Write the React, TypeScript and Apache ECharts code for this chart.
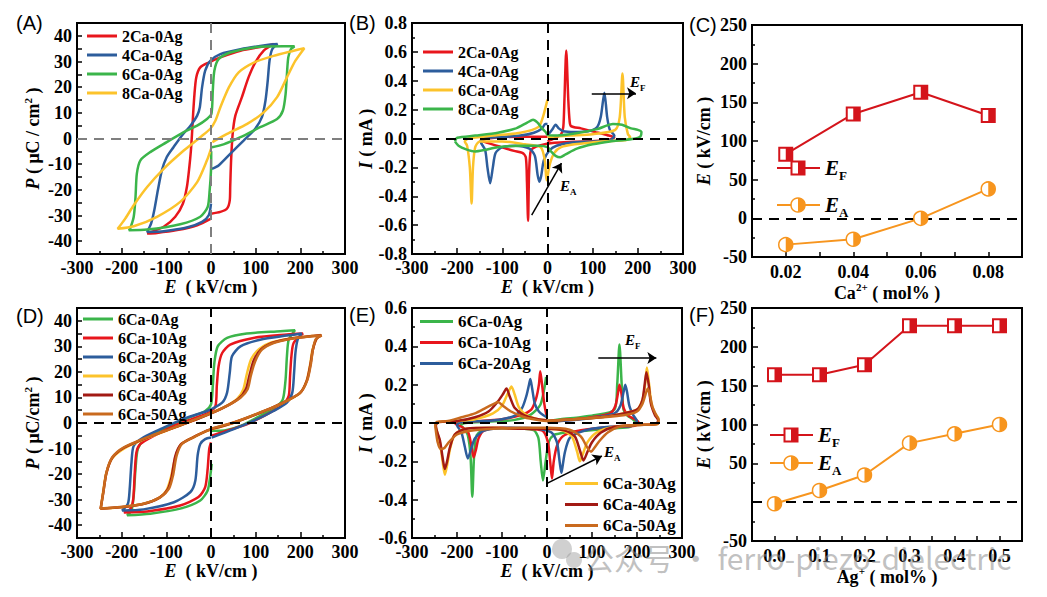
import { useEffect, useRef } from 'react';
import * as echarts from 'echarts';

type Pt = [number, number];

const SERIF = '"Liberation Serif", "Times New Roman", serif';
const SANS = '"Liberation Sans", Arial, sans-serif';

// ---------- (A) P-E loops, x-Ca / 0Ag ----------
const peA_2Ca: Pt[] = [[0,-29.3],[21,-28.6],[36,-27.3],[42,-24.1],[43,-18.9],[45,-8.5],[48.5,1.8],[54.5,8.9],[69,16],[84,23.8],[99,29.6],[118,34.2],[140,36.8],[125,36.1],[66,34.2],[21,31.6],[-5,29.6],[-24,27.7],[-33,23.8],[-37,17.3],[-40,9.6],[-42.5,1.8],[-45,-4.7],[-48.5,-11.1],[-54,-18.9],[-63,-25.4],[-80,-30.5],[-106,-34.4],[-143,-37],[-121,-36.8],[-76,-35.7],[-31,-33.8],[0,-31.2]];
const peA_4Ca: Pt[] = [[2,-11.8],[17,-10.5],[43,-6],[73,-0.8],[99,3.8],[114,8.3],[122,14.8],[127,22.5],[131,30.3],[137,34.8],[149,36.8],[125,36.4],[66,34.8],[21,32.9],[-1.5,30.3],[-13,26.4],[-20,19.9],[-25,12.2],[-31,8.9],[-46,5],[-65,1.2],[-84,-3.4],[-99,-7.2],[-110,-12.4],[-119,-20.2],[-127,-28],[-134,-33.1],[-143,-36.4],[-106,-36.1],[-54,-34.7],[-20,-32.5],[-5,-29.9],[0,-25.4]];
const peA_6Ca: Pt[] = [[2,-3.4],[28,-2.3],[66,0.5],[110,4.4],[148,7.6],[161,10.9],[167,17.3],[170,25.1],[173,31.6],[179,34.8],[187,35.9],[163,35.9],[96,35.5],[43,33.5],[17,30.9],[7.5,26.4],[4,18.6],[1,9.6],[-9,7.6],[-31,5],[-61,2.5],[-99,-1.4],[-136,-5.3],[-158,-8.5],[-166,-13.7],[-169,-22.8],[-173,-30.5],[-181,-35.1],[-184,-35.7],[-143,-35.5],[-69,-33.4],[-24,-30.5],[-7.5,-26.7],[-3,-20.2],[0,-12.4],[0.5,-5]];
const peA_8Ca: Pt[] = [[3,-1.4],[36,1.8],[81,5.7],[118,10.2],[148,16.1],[170,23.8],[189,30.3],[209,35.2],[185,34.2],[140,32.2],[96,29.6],[62,25.8],[40,19.9],[21,12.2],[10,7],[-1.5,3.8],[-24,0.5],[-61,-4.7],[-106,-11.8],[-143,-18.9],[-173,-26],[-192,-31.2],[-209,-35.2],[-173,-34.2],[-121,-30.5],[-69,-24.7],[-31,-17],[-9,-8.5],[0,-4]];

// ---------- (B) I-E curves, x-Ca / 0Ag ----------
const ieB_2Ca: Pt[] = [[0,-0.02],[15,0.0],[30,0.03],[35,0.08],[37.5,0.27],[41.5,0.61],[46,0.27],[49,0.12],[52,0.086],[74,0.07],[104,0.046],[133,0.023],[148,0.007],[133,-0.012],[59,-0.023],[15,-0.03],[-15,-0.046],[-33,-0.07],[-38,-0.1],[-41,-0.26],[-43,-0.57],[-45.5,-0.3],[-48,-0.13],[-55.6,-0.1],[-74,-0.086],[-104,-0.058],[-133,-0.03],[-148,-0.012],[-118,0.005],[-67,0.012],[-15,0.012],[0,0.012]];
const ieB_4Ca: Pt[] = [[0,0.02],[10,0.06],[18,0.095],[25,0.07],[35,0.05],[60,0.045],[90,0.05],[110,0.08],[118,0.15],[126,0.317],[132,0.15],[138,0.06],[148,0.02],[140,-0.01],[100,-0.02],[50,-0.03],[20,-0.05],[5,-0.08],[-8,-0.15],[-14,-0.26],[-18,-0.3],[-22,-0.25],[-28,-0.12],[-40,-0.07],[-70,-0.05],[-100,-0.06],[-115,-0.1],[-121,-0.2],[-127,-0.31],[-133,-0.2],[-138,-0.08],[-148,-0.02],[-140,0.0],[-100,0.01],[-60,0.02],[-30,0.04],[-12,0.07],[-5,0.1],[0,0.1]];
const ieB_6Ca: Pt[] = [[0,0.01],[50,0.02],[100,0.03],[150,0.06],[160,0.15],[166,0.45],[171,0.15],[178,0.03],[183,0.01],[175,-0.01],[120,-0.02],[60,-0.04],[30,-0.06],[15,-0.1],[5,-0.18],[-2,-0.29],[-6,-0.15],[-15,-0.06],[-50,-0.04],[-100,-0.02],[-150,-0.02],[-160,-0.06],[-165,-0.2],[-168,-0.45],[-172,-0.2],[-178,-0.05],[-183,-0.02],[-175,0.0],[-120,0.02],[-60,0.04],[-20,0.08],[-10,0.15],[-4,0.22],[0,0.27]];
const ieB_8Ca: Pt[] = [[-205,-0.02],[-200,0.005],[-160,0.02],[-110,0.04],[-70,0.07],[-45,0.11],[-32,0.13],[-22,0.11],[-12,0.07],[-3,0.04],[0,0.025],[15,0.02],[60,0.035],[110,0.065],[145,0.1],[165,0.095],[185,0.07],[200,0.06],[208,0.045],[206,0.015],[195,0.0],[170,-0.01],[138,-0.02],[100,-0.04],[65,-0.07],[40,-0.11],[28,-0.13],[18,-0.12],[8,-0.09],[0,-0.06],[-20,-0.05],[-60,-0.05],[-110,-0.06],[-140,-0.08],[-160,-0.09],[-180,-0.075],[-197,-0.05],[-205,-0.02]];

// ---------- (C) switching fields vs Ca content ----------
const caContent = [0.02, 0.04, 0.06, 0.08];
const caEF = [83, 135, 163, 133];
const caEA = [-34, -27, 0, 38];

// ---------- (D) P-E loops, 6Ca / y-Ag ----------
const peD_0Ag: Pt[] = [[2,-3],[21,-3],[66,-1.1],[110,2.8],[148,6.7],[161,9.3],[167,17.1],[170,26.1],[174,32.6],[188,36.3],[155,35.9],[80,35],[36,33.3],[15,30],[7.5,23.5],[4,14.5],[0,7.3],[-13,4.7],[-39,2.8],[-76,0.2],[-121,-3.7],[-151,-6.9],[-164,-10.2],[-169,-18],[-173,-28.3],[-178,-34.2],[-188,-36.1],[-136,-35.5],[-69,-33.5],[-24,-30.3],[-7.5,-26.4],[-1.5,-20.6],[1.5,-16]];
const peD_10Ag: Pt[] = [[1.5,-5],[36,-3],[80,-0.5],[125,3.4],[162,7.3],[174,10.6],[177,18.4],[180,26.1],[185,31.3],[206,35],[170,34.6],[95,33.3],[43,30.7],[25,27.4],[17,22.2],[13,14.5],[10,6.7],[-5,4.1],[-39,1.8],[-83,-1.1],[-128,-5],[-158,-8.2],[-167,-11.5],[-171,-20.6],[-174,-29.6],[-180,-33.5],[-195,-35],[-143,-34.6],[-69,-32.3],[-28,-29],[-13,-25.1],[-7.5,-18],[-4,-10.2],[0,-7.6]];
const peD_20Ag: Pt[] = [[1.5,-5.7],[51,-2.4],[95,0.8],[140,4.7],[170,8],[182,11.9],[186,19.6],[189,27.4],[194,32.6],[203,35],[170,34.2],[110,32.6],[66,30],[47,26.1],[42,19.6],[36,11.9],[25,8],[-9,4.7],[-54,2.1],[-106,-1.8],[-151,-5.6],[-173,-8.9],[-178,-15.4],[-182,-25.7],[-186,-31.6],[-199,-34.2],[-151,-33.8],[-83,-31],[-46,-27],[-35,-22.5],[-30,-12.8],[-24,-8.2],[-13,-6.3],[0,-5.7]];
const peD_30Ag: Pt[] = [[1.5,-2.5],[50,0],[110,4],[160,7.8],[198,11.5],[214,16.5],[222,23],[227,28.5],[236,32.8],[246,34.4],[225,34],[175,33],[135,31.5],[108,29],[90,25],[80,19],[72,13],[58,9.3],[25,5.8],[-25,2],[-85,-2],[-145,-6],[-195,-10],[-222,-14],[-235,-20],[-242,-27.5],[-247,-33.6],[-205,-33],[-155,-31.8],[-118,-29.5],[-100,-26.5],[-90,-21.5],[-80,-13.5],[-68,-8.5],[-40,-5.6],[-10,-3.2],[0,-2.6]];
const peD_40Ag: Pt[] = [[1.5,-2.3],[50,0.1],[110,4],[160,7.9],[199,11.7],[215,16.8],[223,23.3],[228,28.6],[236,32.9],[247,34.3],[226,34],[176,33],[138,31.4],[112,28.8],[96,24.6],[86,18.6],[78,13.2],[62,9.6],[27,5.9],[-24,2],[-84,-1.9],[-144,-5.8],[-195,-9.7],[-221,-13.6],[-234,-19.5],[-241,-27],[-247,-33.5],[-204,-33],[-152,-31.7],[-115,-29.2],[-97,-26],[-88,-21],[-80,-13],[-67,-8.3],[-40,-5.6],[-9,-3],[0,-2.4]];
const peD_50Ag: Pt[] = [[1.5,-2.1],[51,0.2],[110,4.1],[162,8],[200,11.9],[216,17],[224,23.5],[228,28.7],[235,32.9],[248,34.2],[225,33.9],[177,32.9],[140,31.3],[114,28.7],[99,24.2],[89,18.4],[82,13.2],[66,9.9],[28,6],[-24,2.1],[-83,-1.8],[-143,-5.6],[-195,-9.5],[-221,-13.4],[-234,-19.3],[-241,-27],[-247,-33.5],[-203,-32.9],[-151,-31.6],[-113,-29],[-94,-25.7],[-85,-20.5],[-77,-12.8],[-65,-8.2],[-39,-5.6],[-9,-3],[0,-2.4]];

// ---------- (E) I-E curves, 6Ca / y-Ag ----------
const ieE_0Ag: Pt[] = [[0,0.01],[30,0.02],[74,0.03],[104,0.04],[150,0.07],[156,0.2],[161,0.41],[166,0.2],[170,0.07],[178,0.04],[190,0.02],[196,0.003],[185,-0.02],[148,-0.028],[104,-0.037],[59,-0.045],[30,-0.054],[15,-0.063],[4,-0.098],[-3,-0.2],[-9,-0.3],[-14,-0.2],[-19,-0.08],[-30,-0.037],[-89,-0.028],[-133,-0.028],[-156,-0.063],[-162,-0.17],[-166,-0.385],[-170,-0.17],[-176,-0.063],[-185,-0.028],[-192,-0.01],[-181,0.0],[-133,0.007],[-74,0.015],[-37,0.042],[-15,0.094],[-6,0.18],[-2,0.24]];
const ieE_10Ag: Pt[] = [[0,0.005],[50,0.015],[100,0.03],[140,0.05],[152,0.09],[158,0.16],[161,0.2],[165,0.16],[170,0.08],[180,0.04],[195,0.02],[203,0.005],[195,-0.015],[150,-0.02],[100,-0.03],[60,-0.045],[35,-0.07],[22,-0.12],[15,-0.2],[11,-0.29],[7,-0.2],[2,-0.1],[-10,-0.04],[-50,-0.03],[-100,-0.025],[-140,-0.04],[-152,-0.08],[-158,-0.14],[-163,-0.18],[-168,-0.12],[-175,-0.05],[-190,-0.02],[-203,-0.005],[-195,0.005],[-150,0.01],[-100,0.02],[-60,0.04],[-35,0.07],[-24,0.13],[-18,0.2],[-15,0.27],[-11,0.2],[-6,0.1],[-2,0.05],[0,0.04]];
const ieE_20Ag: Pt[] = [[0,0.005],[60,0.015],[110,0.03],[150,0.05],[163,0.09],[170,0.16],[174,0.2],[178,0.16],[183,0.09],[192,0.04],[200,0.01],[190,-0.015],[140,-0.02],[100,-0.03],[70,-0.05],[50,-0.08],[40,-0.15],[35,-0.22],[32,-0.26],[28,-0.2],[22,-0.1],[10,-0.05],[-20,-0.03],[-80,-0.025],[-140,-0.04],[-160,-0.08],[-168,-0.13],[-176,-0.185],[-183,-0.12],[-190,-0.05],[-200,-0.01],[-190,0.005],[-140,0.01],[-100,0.02],[-70,0.04],[-55,0.08],[-46,0.14],[-40,0.2],[-37,0.23],[-33,0.18],[-27,0.1],[-18,0.06],[-8,0.04],[0,0.03]];
const ieE_30Ag: Pt[] = [[0,0.01],[60,0.02],[120,0.03],[170,0.05],[200,0.07],[212,0.12],[218,0.2],[222,0.29],[227,0.2],[232,0.1],[240,0.05],[248,0.02],[245,-0.005],[200,-0.01],[150,-0.02],[110,-0.05],[90,-0.1],[80,-0.16],[73,-0.2],[67,-0.15],[55,-0.07],[35,-0.04],[0,-0.03],[-60,-0.03],[-120,-0.025],[-180,-0.03],[-205,-0.06],[-215,-0.13],[-222,-0.22],[-227,-0.27],[-232,-0.2],[-238,-0.1],[-245,-0.04],[-248,-0.01],[-240,0.005],[-200,0.01],[-160,0.02],[-120,0.05],[-100,0.09],[-88,0.15],[-79,0.19],[-72,0.15],[-62,0.08],[-45,0.04],[-20,0.02],[0,0.015]];
const ieE_40Ag: Pt[] = [[0,0.01],[60,0.02],[120,0.03],[170,0.05],[200,0.07],[212,0.12],[217,0.2],[221,0.265],[226,0.2],[231,0.1],[240,0.04],[247,0.015],[243,-0.005],[200,-0.01],[150,-0.02],[120,-0.05],[100,-0.1],[90,-0.15],[81,-0.195],[74,-0.15],[62,-0.07],[40,-0.04],[0,-0.03],[-60,-0.03],[-120,-0.025],[-180,-0.03],[-205,-0.06],[-216,-0.13],[-222,-0.2],[-227,-0.24],[-232,-0.18],[-238,-0.09],[-245,-0.04],[-247,-0.01],[-240,0.005],[-200,0.01],[-160,0.03],[-130,0.06],[-110,0.11],[-98,0.15],[-90,0.18],[-83,0.14],[-72,0.08],[-50,0.04],[-20,0.02],[0,0.015]];
const ieE_50Ag: Pt[] = [[0,0.01],[60,0.02],[120,0.03],[170,0.04],[200,0.06],[212,0.1],[219,0.15],[224,0.18],[229,0.14],[235,0.08],[243,0.04],[248,0.02],[246,-0.005],[200,-0.01],[160,-0.02],[135,-0.05],[118,-0.09],[105,-0.13],[98,-0.15],[90,-0.13],[75,-0.07],[50,-0.035],[0,-0.025],[-60,-0.025],[-120,-0.03],[-170,-0.04],[-200,-0.06],[-218,-0.1],[-228,-0.13],[-237,-0.135],[-243,-0.1],[-247,-0.04],[-248,-0.01],[-245,0.005],[-220,0.01],[-190,0.03],[-160,0.05],[-135,0.08],[-118,0.1],[-109,0.11],[-98,0.09],[-80,0.06],[-50,0.03],[-20,0.015],[0,0.01]];

// ---------- (F) switching fields vs Ag content ----------
const agContent = [0.0, 0.1, 0.2, 0.3, 0.4, 0.5];
const agEF = [164, 164, 177, 227, 227, 227];
const agEA = [-2, 15, 35, 76, 88, 100];

// ---------- tick values ----------
const pLabelTicks = [-40, -30, -20, -10, 0, 10, 20, 30, 40];
const pAllTicks = [-40, -35, -30, -25, -20, -15, -10, -5, 0, 5, 10, 15, 20, 25, 30, 35, 40];
const caLabelTicks = [0.02, 0.04, 0.06, 0.08];
const caAllTicks = [0.01, 0.02, 0.03, 0.04, 0.05, 0.06, 0.07, 0.08, 0.09];
const agLabelTicks = [0.0, 0.1, 0.2, 0.3, 0.4, 0.5];
const agAllTicks = [-0.05, 0, 0.05, 0.1, 0.15, 0.2, 0.25, 0.3, 0.35, 0.4, 0.45, 0.5, 0.55];

// ---------- colours ----------
const RED = '#e8161c';
const BLUE = '#2d5d9c';
const GREEN = '#3bb54a';
const YELLOW = '#fcc32b';
const DARKRED = '#a21a14';
const BROWN = '#c96a1e';
const FRED = '#d4141b';
const FORANGE = '#f7951e';

const grids = [
  { left: 77, top: 23, width: 268, height: 231 },
  { left: 412, top: 23, width: 271, height: 231 },
  { left: 752, top: 25, width: 270, height: 232 },
  { left: 77, top: 308, width: 268, height: 230 },
  { left: 412, top: 308, width: 270, height: 230 },
  { left: 752, top: 308, width: 270, height: 233 },
].map((g) => ({ ...g, show: true, borderColor: '#000', borderWidth: 2, backgroundColor: 'transparent' }));

const tickStyle = { color: '#000', width: 1.5 };
const labelStyle = { color: '#000', fontFamily: SERIF, fontWeight: 'bold', fontSize: 18 };
const nameRich = {
  i: { fontFamily: SERIF, fontStyle: 'italic', fontWeight: 'bold', fontSize: 18, color: '#000', lineHeight: 22 },
  n: { fontFamily: SERIF, fontWeight: 'bold', fontSize: 18, color: '#000', lineHeight: 22 },
  s: { fontFamily: SERIF, fontWeight: 'bold', fontSize: 11, color: '#000', verticalAlign: 'top', lineHeight: 12 },
};
const nameStyle = { color: '#000', fontFamily: SERIF, fontWeight: 'bold', fontSize: 18, rich: nameRich };

function baseAxis(g: number, extra: any) {
  return {
    type: 'value',
    gridIndex: g,
    axisLine: { show: true, onZero: false, lineStyle: { color: '#000', width: 2 } },
    axisTick: { show: true, inside: true, length: 6, lineStyle: tickStyle },
    splitLine: { show: false },
    axisLabel: { ...labelStyle, margin: 5 },
    nameLocation: 'middle',
    nameTextStyle: nameStyle,
    ...extra,
  };
}

const fieldX = (g: number, gap: number) =>
  baseAxis(g, {
    min: -300, max: 300, interval: 100,
    minorTick: { show: true, splitNumber: 2, length: 3, lineStyle: tickStyle },
    name: '{i|E}{n|  ( kV/cm )}', nameGap: gap,
  });

const xAxes = [
  fieldX(0, 20),
  fieldX(1, 20),
  baseAxis(2, {
    min: 0.01, max: 0.09,
    axisTick: { show: true, inside: true, length: 5, lineStyle: tickStyle, customValues: caAllTicks },
    axisLabel: { ...labelStyle, margin: 6, customValues: caLabelTicks, formatter: (v: number) => v.toFixed(2) },
    name: '{n|Ca}{s|2+}{n| ( mol% )}', nameGap: 22,
  }),
  fieldX(3, 19),
  fieldX(4, 20),
  baseAxis(5, {
    min: -0.05, max: 0.55,
    axisTick: { show: true, inside: true, length: 5, lineStyle: tickStyle, customValues: agAllTicks },
    axisLabel: { ...labelStyle, margin: 6, customValues: agLabelTicks, formatter: (v: number) => v.toFixed(1) },
    name: '{n|Ag}{s|+}{n| ( mol% )}', nameGap: 21,
  }),
];

const polY = (g: number, name: string) =>
  baseAxis(g, {
    min: -45, max: 45,
    axisTick: { show: true, inside: true, length: 5, lineStyle: tickStyle, customValues: pAllTicks },
    axisLabel: { ...labelStyle, margin: 5, customValues: pLabelTicks },
    name, nameGap: 33,
  });

const curY = (g: number, lim: number) =>
  baseAxis(g, {
    min: -lim, max: lim, interval: 0.2,
    minorTick: { show: true, splitNumber: 2, length: 3, lineStyle: tickStyle },
    axisLabel: { ...labelStyle, margin: 5, formatter: (v: number) => v.toFixed(1) },
    name: '{i|I}{n| ( mA )}', nameGap: 35,
  });

const fieldY = (g: number, hideZero: boolean) =>
  baseAxis(g, {
    min: -50, max: 250, interval: 50,
    minorTick: { show: true, splitNumber: 2, length: 3, lineStyle: tickStyle },
    axisLabel: { ...labelStyle, margin: 5, formatter: (v: number) => (hideZero && v === 0 ? '' : String(v)) },
    name: '{i|E}{n| ( kV/cm )}', nameGap: 37,
  });

const yAxes = [
  polY(0, '{i|P}{n| ( μC / cm}{s|2}{n| )}'),
  curY(1, 0.8),
  fieldY(2, false),
  polY(3, '{i|P}{n| ( μC/cm}{s|2}{n| )}'),
  curY(4, 0.6),
  fieldY(5, true),
];

function curve(panel: string, label: string, data: Pt[], color: string, g: number) {
  return {
    type: 'line', name: `${panel}|${label}`, xAxisIndex: g, yAxisIndex: g, data,
    showSymbol: false, symbol: 'none', smooth: 0.25, silent: true,
    lineStyle: { color, width: 2.5 }, itemStyle: { color }, z: 3,
  };
}

const dash = (color: string) => ({ color, width: 2, type: [10, 7] });
const arrowPair = (from: Pt, to: Pt, curveness = 0) => [
  { coord: from, symbol: 'none', lineStyle: { color: '#000', width: 1.5, type: 'solid', curveness } },
  { coord: to, symbol: 'arrow' },
];

function guides(g: number, items: any[]) {
  return {
    type: 'line', xAxisIndex: g, yAxisIndex: g, data: [], silent: true, z: 2,
    markLine: { silent: true, symbol: ['none', 'none'], symbolSize: 9, label: { show: false }, animation: false, data: items },
  };
}

const squareMarker = (color: string) => (_p: any, api: any) => {
  const c = api.coord([api.value(0), api.value(1)]);
  const s = 6.5;
  return {
    type: 'group',
    children: [
      { type: 'rect', shape: { x: c[0] - s, y: c[1] - s, width: 2 * s, height: 2 * s }, style: { fill: '#fff', stroke: color, lineWidth: 2 } },
      { type: 'rect', shape: { x: c[0], y: c[1] - s, width: s, height: 2 * s }, style: { fill: color } },
    ],
  };
};
const circleMarker = (color: string) => (_p: any, api: any) => {
  const c = api.coord([api.value(0), api.value(1)]);
  const r = 7;
  return {
    type: 'group',
    children: [
      { type: 'circle', shape: { cx: c[0], cy: c[1], r }, style: { fill: '#fff', stroke: color, lineWidth: 1.5 } },
      { type: 'sector', shape: { cx: c[0], cy: c[1], r0: 0, r, startAngle: -Math.PI / 2, endAngle: Math.PI / 2, clockwise: true }, style: { fill: color } },
    ],
  };
};

function fieldSeries(g: number, xs: number[], ys: number[], color: string, marker: any) {
  const data = xs.map((x, i) => [x, ys[i]]);
  return [
    { type: 'line', xAxisIndex: g, yAxisIndex: g, data, symbol: 'none', silent: true, lineStyle: { color, width: 2 }, z: 3 },
    { type: 'custom', xAxisIndex: g, yAxisIndex: g, data, silent: true, renderItem: marker(color), encode: { x: 0, y: 1 }, z: 5 },
  ];
}

const legendText = { color: '#000', fontFamily: SERIF, fontWeight: 'bold', fontSize: 16 };
function legend(left: number, top: number, names: string[], width: number, gap: number, size = 16) {
  return {
    orient: 'vertical', left, top, padding: 0, icon: 'rect', itemWidth: width, itemHeight: 3, itemGap: gap,
    selectedMode: false, data: names,
    formatter: (n: string) => n.split('|')[1],
    textStyle: { ...legendText, fontSize: size },
  };
}

const subRich = (size: number) => ({
  i: { fontFamily: SERIF, fontStyle: 'italic', fontWeight: 'bold', fontSize: size, fill: '#000' },
  s: { fontFamily: SERIF, fontWeight: 'bold', fontSize: Math.round(size * 0.62), fill: '#000', verticalAlign: 'bottom', padding: [0, 0, -3, 0] },
});

function subText(x: number, y: number, main: string, sub: string, size: number) {
  return {
    type: 'text', x, y, silent: true,
    style: { text: `{i|${main}}{s|${sub}}`, rich: subRich(size), verticalAlign: 'middle', fill: '#000' },
  };
}

function panelLabel(x: number, y: number, t: string) {
  return { type: 'text', x, y, silent: true, style: { text: t, font: `20px ${SANS}`, fill: '#000', verticalAlign: 'middle' } };
}

function fieldLegend(x: number, y: number, color: string, kind: 'sq' | 'ci', sub: string) {
  const s = 6.5;
  const mx = x + 21;
  const mark = kind === 'sq'
    ? [
        { type: 'rect', shape: { x: mx - s, y: y - s, width: 2 * s, height: 2 * s }, style: { fill: '#fff', stroke: color, lineWidth: 2 } },
        { type: 'rect', shape: { x: mx, y: y - s, width: s, height: 2 * s }, style: { fill: color } },
      ]
    : [
        { type: 'circle', shape: { cx: mx, cy: y, r: 7 }, style: { fill: '#fff', stroke: color, lineWidth: 1.5 } },
        { type: 'sector', shape: { cx: mx, cy: y, r0: 0, r: 7, startAngle: -Math.PI / 2, endAngle: Math.PI / 2, clockwise: true }, style: { fill: color } },
      ];
  return [
    { type: 'line', shape: { x1: x, y1: y, x2: x + 43, y2: y }, style: { stroke: color, lineWidth: 2 }, silent: true },
    ...mark.map((m) => ({ ...m, silent: true })),
    subText(x + 48, y, 'E', sub, 21),
  ];
}

const series: any[] = [
  // A
  guides(0, [{ xAxis: 0, lineStyle: dash('#7f7f7f') }, { yAxis: 0, lineStyle: dash('#7f7f7f') }]),
  curve('A', '2Ca-0Ag', peA_2Ca, RED, 0),
  curve('A', '4Ca-0Ag', peA_4Ca, BLUE, 0),
  curve('A', '6Ca-0Ag', peA_6Ca, GREEN, 0),
  curve('A', '8Ca-0Ag', peA_8Ca, YELLOW, 0),
  // B
  guides(1, [
    { xAxis: 0, lineStyle: dash('#000') },
    { yAxis: 0, lineStyle: dash('#000') },
    arrowPair([98, 0.313], [196, 0.313]),
    arrowPair([-35, -0.53], [31, -0.17], -0.15),
  ]),
  curve('B', '2Ca-0Ag', ieB_2Ca, RED, 1),
  curve('B', '4Ca-0Ag', ieB_4Ca, BLUE, 1),
  curve('B', '6Ca-0Ag', ieB_6Ca, YELLOW, 1),
  curve('B', '8Ca-0Ag', ieB_8Ca, GREEN, 1),
  // C
  guides(2, [{ yAxis: 0, lineStyle: dash('#000') }]),
  ...fieldSeries(2, caContent, caEF, FRED, squareMarker),
  ...fieldSeries(2, caContent, caEA, FORANGE, circleMarker),
  // D
  guides(3, [{ xAxis: 0, lineStyle: dash('#000') }, { yAxis: 0, lineStyle: dash('#000') }]),
  curve('D', '6Ca-0Ag', peD_0Ag, GREEN, 3),
  curve('D', '6Ca-10Ag', peD_10Ag, RED, 3),
  curve('D', '6Ca-20Ag', peD_20Ag, BLUE, 3),
  curve('D', '6Ca-30Ag', peD_30Ag, YELLOW, 3),
  curve('D', '6Ca-40Ag', peD_40Ag, DARKRED, 3),
  curve('D', '6Ca-50Ag', peD_50Ag, BROWN, 3),
  // E
  guides(4, [
    { xAxis: 0, lineStyle: dash('#000') },
    { yAxis: 0, lineStyle: dash('#000') },
    arrowPair([114, 0.339], [243, 0.339]),
    arrowPair([0, -0.315], [122, -0.172]),
  ]),
  curve('E', '6Ca-0Ag', ieE_0Ag, GREEN, 4),
  curve('E', '6Ca-10Ag', ieE_10Ag, RED, 4),
  curve('E', '6Ca-20Ag', ieE_20Ag, BLUE, 4),
  curve('E', '6Ca-30Ag', ieE_30Ag, YELLOW, 4),
  curve('E', '6Ca-40Ag', ieE_40Ag, DARKRED, 4),
  curve('E', '6Ca-50Ag', ieE_50Ag, BROWN, 4),
  // F
  guides(5, [{ yAxis: 0, lineStyle: dash('#000') }]),
  ...fieldSeries(5, agContent, agEF, FRED, squareMarker),
  ...fieldSeries(5, agContent, agEA, FORANGE, circleMarker),
];

const legends = [
  legend(87, 28, ['A|2Ca-0Ag', 'A|4Ca-0Ag', 'A|6Ca-0Ag', 'A|8Ca-0Ag'], 30, 3),
  legend(423, 44, ['B|2Ca-0Ag', 'B|4Ca-0Ag', 'B|6Ca-0Ag', 'B|8Ca-0Ag'], 30, 3),
  legend(83, 311, ['D|6Ca-0Ag', 'D|6Ca-10Ag', 'D|6Ca-20Ag', 'D|6Ca-30Ag', 'D|6Ca-40Ag', 'D|6Ca-50Ag'], 30, 3),
  legend(420, 313, ['E|6Ca-0Ag', 'E|6Ca-10Ag', 'E|6Ca-20Ag'], 33, 4, 17),
  legend(565, 475, ['E|6Ca-30Ag', 'E|6Ca-40Ag', 'E|6Ca-50Ag'], 33, 4, 17),
];

const graphics: any[] = [
  panelLabel(16, 23, '(A)'),
  panelLabel(349, 23, '(B)'),
  panelLabel(689, 25, '(C)'),
  panelLabel(16, 316, '(D)'),
  panelLabel(349, 315, '(E)'),
  panelLabel(689, 315, '(F)'),
  subText(630, 82, 'E', 'F', 15),
  subText(560, 186, 'E', 'A', 15),
  subText(625, 340, 'E', 'F', 15),
  subText(604, 452, 'E', 'A', 15),
  ...fieldLegend(777, 168, FRED, 'sq', 'F'),
  ...fieldLegend(777, 205, FORANGE, 'ci', 'A'),
  ...fieldLegend(770, 435, FRED, 'sq', 'F'),
  ...fieldLegend(770, 463, FORANGE, 'ci', 'A'),
  // channel watermark
  { type: 'circle', silent: true, shape: { cx: 562, cy: 549, r: 10 }, style: { fill: 'rgba(150,150,150,0.45)' } },
  { type: 'circle', silent: true, shape: { cx: 574, cy: 560, r: 8 }, style: { fill: 'rgba(150,150,150,0.45)' } },
  {
    type: 'text', x: 584, y: 557, silent: true, z: 100,
    style: { text: '公众号 · ferro-piezo-dielectric', font: `30px "Noto Sans CJK SC", "Noto Sans", sans-serif`, fill: 'rgba(140,140,140,0.55)', verticalAlign: 'middle' },
  },
];

const option: any = {
  animation: false,
  backgroundColor: '#fff',
  grid: grids,
  xAxis: xAxes,
  yAxis: yAxes,
  legend: legends,
  series,
  graphic: graphics,
};

export default function App() {
  const ref = useRef<HTMLDivElement>(null);
  useEffect(() => {
    if (!ref.current) return;
    const chart = echarts.init(ref.current, null, { renderer: 'svg' });
    chart.setOption(option);
    return () => chart.dispose();
  }, []);
  return <div ref={ref} style={{ position: 'fixed', left: 0, top: 0, width: 1047, height: 597, background: '#fff' }} />;
}
